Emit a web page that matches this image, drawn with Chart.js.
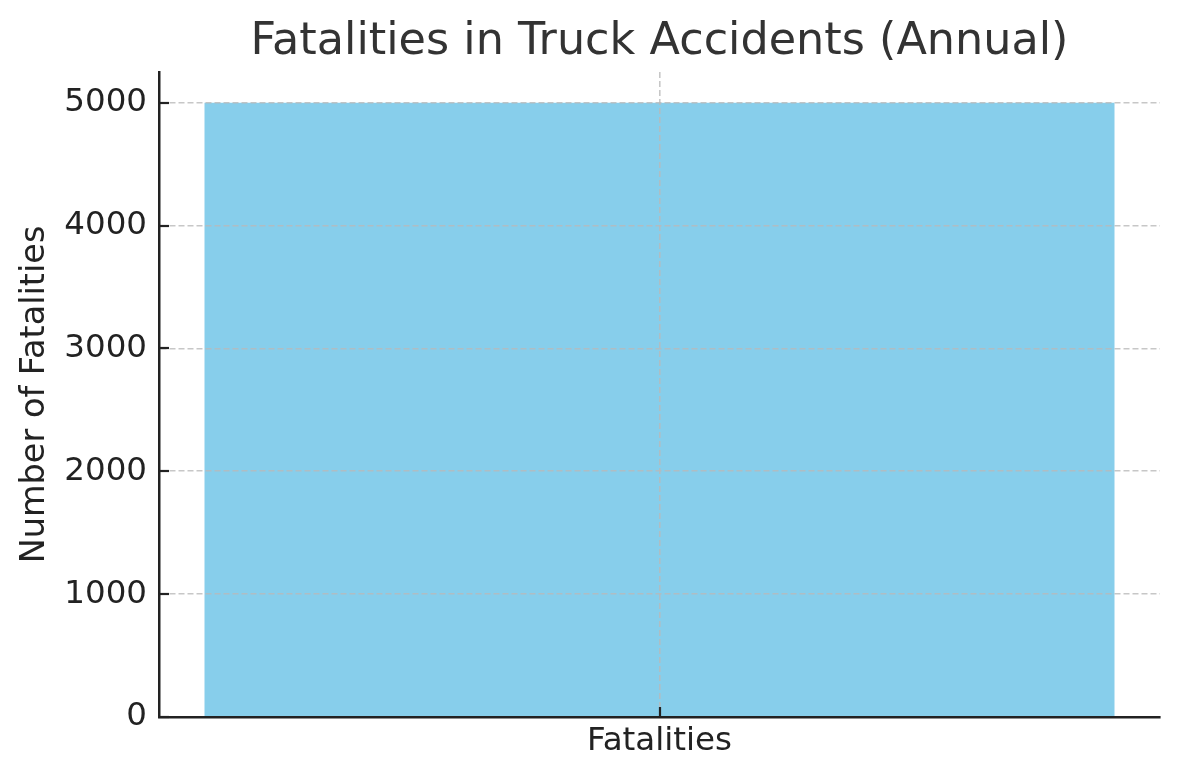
<!DOCTYPE html>
<html>
<head>
<meta charset="utf-8">
<script src="https://cdn.jsdelivr.net/npm/chart.js@4/dist/chart.umd.min.js"></script>
<style>
  html, body { margin: 0; padding: 0; background: #ffffff; }
  #wrap { width: 1180px; height: 780px; position: relative; }
</style>
</head>
<body>
<div id="wrap"><canvas id="c" width="1180" height="780"></canvas></div>
<script>
const chartTitle = "Fatalities in Truck Accidents (Annual)";
const categories = ["Fatalities"];
const fatalities = [5000];
const yTickValues = [0, 1000, 2000, 3000, 4000, 5000];
const yAxisLabel = "Number of Fatalities";
const yMax = 5250;

const FONT = "'DejaVu Sans', 'Liberation Sans', sans-serif";
const gridColor = "rgba(185,185,185,0.8)";
const axisColor = "#222222";

const insideTicks = {
  id: "insideTicks",
  afterDraw(chart) {
    const ctx = chart.ctx;
    const xs = chart.scales.x, ys = chart.scales.y;
    const area = chart.chartArea;
    ctx.save();
    ctx.strokeStyle = axisColor;
    ctx.lineWidth = 2.2;
    ys.ticks.forEach(t => {
      const y = Math.round(ys.getPixelForValue(t.value));
      ctx.beginPath();
      ctx.moveTo(area.left, y);
      ctx.lineTo(area.left + 10, y);
      ctx.stroke();
    });
    xs.ticks.forEach((t, i) => {
      const x = Math.round(xs.getPixelForTick(i));
      ctx.beginPath();
      ctx.moveTo(x, area.bottom);
      ctx.lineTo(x, area.bottom - 10);
      ctx.stroke();
    });
    ctx.restore();
  }
};

new Chart(document.getElementById("c"), {
  type: "bar",
  data: {
    labels: categories,
    datasets: [{
      label: "Fatalities",
      data: fatalities,
      backgroundColor: "#87CEEB",
      borderWidth: 0,
      barPercentage: 0.8 / 0.88,
      categoryPercentage: 1.0
    }]
  },
  options: {
    responsive: false,
    animation: false,
    devicePixelRatio: 1,
    layout: { padding: { left: 0, right: 20, top: 0, bottom: 0 } },
    plugins: {
      legend: { display: false },
      tooltip: { enabled: false },
      title: {
        display: true,
        text: chartTitle,
        fullSize: false,
        color: "#333333",
        font: { family: FONT, size: 44.5, weight: "normal", lineHeight: 1.2 },
        padding: { top: 16, bottom: 2.6 }
      }
    },
    scales: {
      x: {
        offset: true,
        afterFit(scale) { scale.height = 63; },
        grid: {
          display: true,
          z: 1,
          offset: false,
          drawTicks: false,
          color: gridColor,
          lineWidth: 1.6
        },
        border: { display: true, z: 2, color: axisColor, width: 2.5, dash: [6, 3] },
        ticks: {
          color: "#222222",
          padding: 5,
          font: { family: FONT, size: 32.5 }
        }
      },
      y: {
        min: 0,
        max: yMax,
        afterFit(scale) { scale.width = 159; },
        afterBuildTicks(scale) {
          scale.ticks = yTickValues.map(v => ({ value: v }));
        },
        grid: {
          display: true,
          z: 1,
          drawTicks: false,
          color: ctx => (ctx.tick && ctx.tick.value === 0) ? "rgba(0,0,0,0)" : gridColor,
          lineWidth: 1.6
        },
        border: { display: true, z: 2, color: axisColor, width: 2.5, dash: [6, 3] },
        ticks: {
          color: "#222222",
          padding: 12,
          stepSize: 1000,
          font: { family: FONT, size: 32.5 },
          callback: v => String(v)
        },
        title: {
          display: true,
          text: yAxisLabel,
          color: "#222222",
          font: { family: FONT, size: 33.5, lineHeight: 1.2 },
          padding: { top: 15, bottom: 0 }
        }
      }
    }
  },
  plugins: [insideTicks]
});
</script>
</body>
</html>
